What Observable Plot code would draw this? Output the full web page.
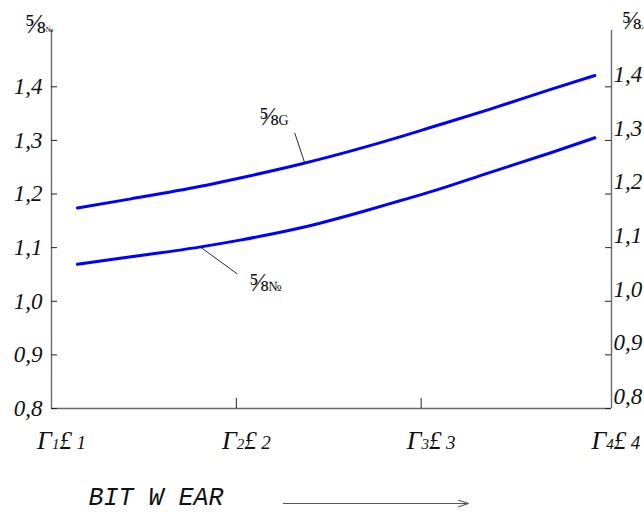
<!DOCTYPE html>
<html><head><meta charset="utf-8">
<script src="https://cdn.jsdelivr.net/npm/d3@7"></script>
<script src="https://cdn.jsdelivr.net/npm/@observablehq/plot@0.6"></script>
<style>html,body{margin:0;padding:0;background:#fff} svg{display:block}</style>
</head><body><div id="chart"></div>
<script>
// ---- data ----
const wearTicks = [1, 2, 3, 4];
const wearLabels = ["Γ1£ 1", "Γ2£ 2", "Γ3£ 3", "Γ4£ 4"];
const innerTicks = [2, 3];
const yTicks = [0.8, 0.9, 1.0, 1.1, 1.2, 1.3, 1.4];
const wear = [1.14, 1.43, 1.8, 2.02, 2.35, 2.69, 2.89, 3.05, 3.37, 3.71, 3.94];
const upperValues = [1.174, 1.191, 1.214, 1.230, 1.256, 1.287, 1.307, 1.324, 1.358, 1.396, 1.421];
const lowerValues = [1.069, 1.083, 1.101, 1.114, 1.137, 1.168, 1.188, 1.204, 1.240, 1.278, 1.305];
const labelSuffix = ["G", "№"];
const labelWear = [2.228, 2.174];
const labelValue = [1.328, 1.020];
const leaderWear1 = [2.369, 1.806];
const leaderValue1 = [1.259, 1.101];
const leaderWear2 = [2.316, 2.005];
const leaderValue2 = [1.314, 1.051];
const captionText = "BIT W EAR";
const arrowWear = [2.255, 3.256];
const xMax = 4.03, yMin = 0.8, yMax = 1.505;

// ---- tables ----
const upperRows = wear.map((w, i) => ({wear: w, value: upperValues[i]}));
const lowerRows = wear.map((w, i) => ({wear: w, value: lowerValues[i]}));
const annots = labelSuffix.map((s, i) => ({
  suffix: s, x: labelWear[i], y: labelValue[i],
  x1: leaderWear1[i], y1: leaderValue1[i], x2: leaderWear2[i], y2: leaderValue2[i]
}));

const W = 644, H = 512, mL = 51, mR = 33, mT = 30, mB = 104;
const fw = W - mL - mR, fh = H - mT - mB;
const serif = "Liberation Serif, Times New Roman, serif";
const fmt = d => d.toFixed(1).replace(".", ",");
const axisCol = "#6a6a6a";

const chart = Plot.plot({
  width: W, height: H,
  marginLeft: mL, marginRight: mR, marginTop: mT, marginBottom: mB,
  style: {background: "#fff"},
  x: {type: "linear", domain: [1, xMax]},
  y: {type: "linear", domain: [yMin, yMax]},
  marks: [
    Plot.ruleX([1, xMax], {stroke: axisCol, strokeWidth: 1.4}),
    Plot.ruleY([yMin], {stroke: axisCol, strokeWidth: 1.4}),
    Plot.tickY(yTicks, {y: d => d, insetRight: fw - 6, stroke: "#222", strokeWidth: 1}),
    Plot.tickY(yTicks, {y: d => d, insetLeft: fw - 6, stroke: "#222", strokeWidth: 1}),
    Plot.tickX(innerTicks, {x: d => d, insetTop: fh - 10, stroke: "#222", strokeWidth: 1}),
    Plot.line(upperRows, {x: "wear", y: "value", stroke: "#0000ff", strokeWidth: 3, curve: "monotone-x"}),
    Plot.line(lowerRows, {x: "wear", y: "value", stroke: "#0000ff", strokeWidth: 3, curve: "monotone-x"}),
    Plot.link(annots, {x1: "x1", y1: "y1", x2: "x2", y2: "y2", stroke: "#111", strokeWidth: 0.9}),
    Plot.text(annots, {x: "x", y: "y", text: () => "⅝", textAnchor: "end", lineAnchor: "bottom", fontSize: 26, fontFamily: serif, fill: "#111"}),
    Plot.text(annots, {x: "x", y: "y", text: "suffix", textAnchor: "start", lineAnchor: "bottom", fontSize: 14, fontFamily: serif, fill: "#111"}),
    Plot.axisY({anchor: "left", ticks: yTicks, tickSize: 0, tickPadding: 9, tickFormat: fmt, fontSize: 23, fontStyle: "italic", fontFamily: serif, fill: "#111"}),
    Plot.axisY({anchor: "right", ticks: yTicks, tickSize: 0, tickPadding: 2, dy: -12, tickFormat: fmt, fontSize: 23, fontStyle: "italic", fontFamily: serif, fill: "#111"}),
    Plot.axisX({ticks: wearTicks, tickSize: 0, tickPadding: 23, dx: 10, tickFormat: d => wearLabels[wearTicks.indexOf(d)], fontSize: 24, fontStyle: "italic", fontFamily: serif, fill: "#111"}),
    Plot.text(["⅝"], {text: d => d, frameAnchor: "top-left", dx: -6, dy: 2, textAnchor: "end", lineAnchor: "bottom", fontSize: 28, fontFamily: serif, fill: "#111"}),
    Plot.text(["№"], {text: d => d, frameAnchor: "top-left", dx: -6, dy: 1, textAnchor: "start", lineAnchor: "bottom", fontSize: 8, fontFamily: serif, fill: "#111"}),
    Plot.text(["⅝"], {text: d => d, frameAnchor: "top-right", dx: 10, dy: -2, textAnchor: "start", lineAnchor: "bottom", fontSize: 26, fontFamily: serif, fill: "#111"}),
    Plot.text(["G"], {text: d => d, frameAnchor: "top-right", dx: 28, dy: -2, textAnchor: "start", lineAnchor: "bottom", fontSize: 6, fontFamily: serif, fill: "#111"}),
    Plot.text([captionText], {text: d => d, frameAnchor: "bottom-left", dx: 37, dy: 96, textAnchor: "start", lineAnchor: "bottom", fontSize: 25, fontStyle: "italic", fontFamily: "Liberation Mono, DejaVu Sans Mono, monospace", fill: "#111"}),
    Plot.arrow([{x1: arrowWear[0], x2: arrowWear[1], y: yMin}], {x1: "x1", x2: "x2", y1: "y", y2: "y", dy: 95, headLength: 13, headAngle: 36, stroke: "#555", strokeWidth: 1.2})
  ]
});

// make sure the axis labels use the italic serif face
chart.querySelectorAll('g[aria-label$="tick label"]').forEach(g => {
  g.setAttribute("font-family", serif);
  g.setAttribute("font-style", "italic");
  g.querySelectorAll("text").forEach(t => { t.setAttribute("font-family", serif); t.setAttribute("font-style", "italic"); });
});

// rich x tick labels (mixed glyph sizes)
const NS = "http://www.w3.org/2000/svg";
chart.querySelectorAll('g[aria-label="x-axis tick label"] text').forEach(t => {
  const s = t.textContent;
  t.textContent = "";
  let digitSeen = false;
  [...s].forEach(ch => {
    const ts = document.createElementNS(NS, "tspan");
    ts.textContent = ch;
    let size = 18;
    if (ch === "Γ") size = 26;
    else if (ch === "£") size = 25;
    else if (/\d/.test(ch)) { size = digitSeen ? 19 : 15; digitSeen = true; }
    ts.setAttribute("font-size", size);
    t.appendChild(ts);
  });
});
document.getElementById("chart").appendChild(chart);
</script>
</body></html>
